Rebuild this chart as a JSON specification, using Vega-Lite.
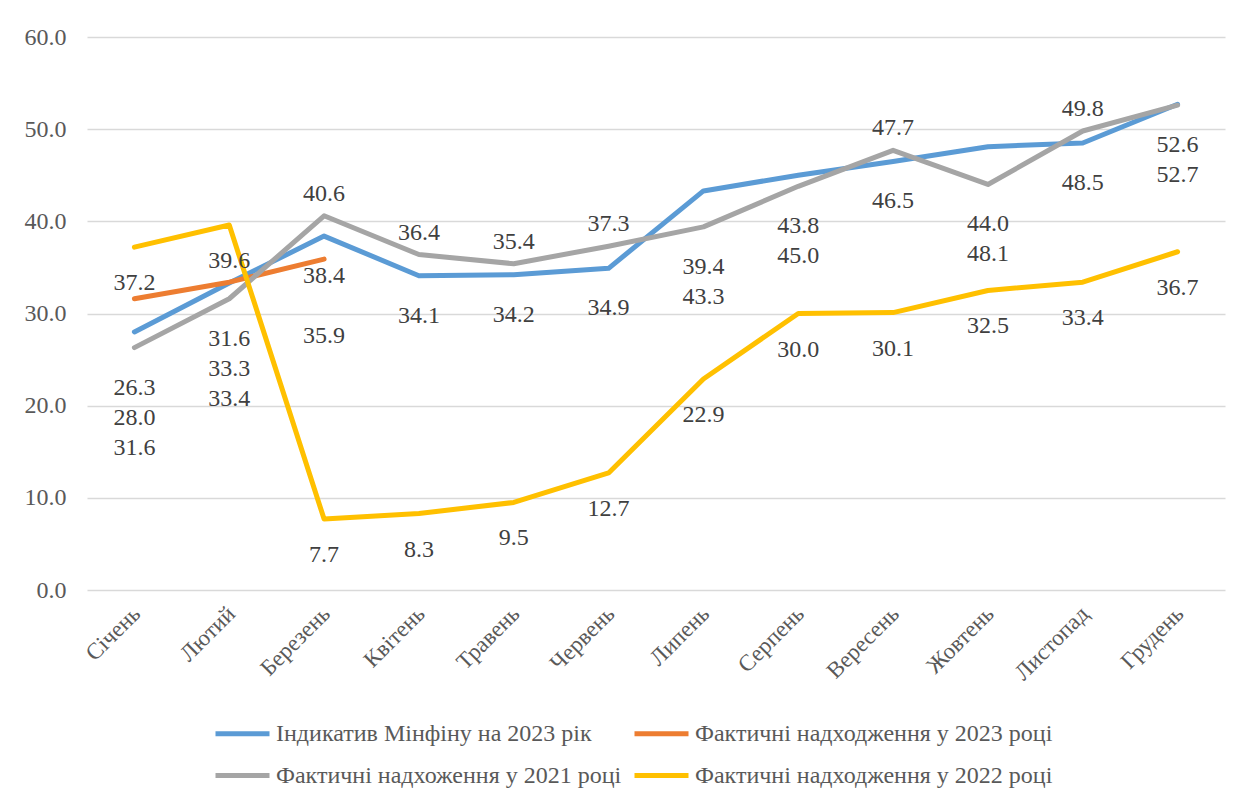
{
  "$schema": "https://vega.github.io/schema/vega-lite/v6.json",
  "width": 1138,
  "height": 553,
  "autosize": {"type": "none"},
  "padding": {"left": 87, "top": 37, "right": 30, "bottom": 215},
  "background": "white",
  "config": {"view": {"stroke": null}},
  "datasets": {
    "blue": [
      {"month": "Січень", "series": "Індикатив Мінфіну на 2023 рік", "value": 28.0},
      {"month": "Лютий", "series": "Індикатив Мінфіну на 2023 рік", "value": 33.3},
      {"month": "Березень", "series": "Індикатив Мінфіну на 2023 рік", "value": 38.4},
      {"month": "Квітень", "series": "Індикатив Мінфіну на 2023 рік", "value": 34.1},
      {"month": "Травень", "series": "Індикатив Мінфіну на 2023 рік", "value": 34.2},
      {"month": "Червень", "series": "Індикатив Мінфіну на 2023 рік", "value": 34.9},
      {"month": "Липень", "series": "Індикатив Мінфіну на 2023 рік", "value": 43.3},
      {"month": "Серпень", "series": "Індикатив Мінфіну на 2023 рік", "value": 45.0},
      {"month": "Вересень", "series": "Індикатив Мінфіну на 2023 рік", "value": 46.5},
      {"month": "Жовтень", "series": "Індикатив Мінфіну на 2023 рік", "value": 48.1},
      {"month": "Листопад", "series": "Індикатив Мінфіну на 2023 рік", "value": 48.5},
      {"month": "Грудень", "series": "Індикатив Мінфіну на 2023 рік", "value": 52.7}
    ],
    "orange": [
      {"month": "Січень", "series": "Фактичні надходження у 2023 році", "value": 31.6},
      {"month": "Лютий", "series": "Фактичні надходження у 2023 році", "value": 33.4},
      {"month": "Березень", "series": "Фактичні надходження у 2023 році", "value": 35.9}
    ],
    "gray": [
      {"month": "Січень", "series": "Фактичні надхоження у 2021 році", "value": 26.3},
      {"month": "Лютий", "series": "Фактичні надхоження у 2021 році", "value": 31.6},
      {"month": "Березень", "series": "Фактичні надхоження у 2021 році", "value": 40.6},
      {"month": "Квітень", "series": "Фактичні надхоження у 2021 році", "value": 36.4},
      {"month": "Травень", "series": "Фактичні надхоження у 2021 році", "value": 35.4},
      {"month": "Червень", "series": "Фактичні надхоження у 2021 році", "value": 37.3},
      {"month": "Липень", "series": "Фактичні надхоження у 2021 році", "value": 39.4},
      {"month": "Серпень", "series": "Фактичні надхоження у 2021 році", "value": 43.8},
      {"month": "Вересень", "series": "Фактичні надхоження у 2021 році", "value": 47.7},
      {"month": "Жовтень", "series": "Фактичні надхоження у 2021 році", "value": 44.0},
      {"month": "Листопад", "series": "Фактичні надхоження у 2021 році", "value": 49.8},
      {"month": "Грудень", "series": "Фактичні надхоження у 2021 році", "value": 52.6}
    ],
    "yellow": [
      {"month": "Січень", "series": "Фактичні надходження у 2022 році", "value": 37.2},
      {"month": "Лютий", "series": "Фактичні надходження у 2022 році", "value": 39.6},
      {"month": "Березень", "series": "Фактичні надходження у 2022 році", "value": 7.7},
      {"month": "Квітень", "series": "Фактичні надходження у 2022 році", "value": 8.3},
      {"month": "Травень", "series": "Фактичні надходження у 2022 році", "value": 9.5},
      {"month": "Червень", "series": "Фактичні надходження у 2022 році", "value": 12.7},
      {"month": "Липень", "series": "Фактичні надходження у 2022 році", "value": 22.9},
      {"month": "Серпень", "series": "Фактичні надходження у 2022 році", "value": 30.0},
      {"month": "Вересень", "series": "Фактичні надходження у 2022 році", "value": 30.1},
      {"month": "Жовтень", "series": "Фактичні надходження у 2022 році", "value": 32.5},
      {"month": "Листопад", "series": "Фактичні надходження у 2022 році", "value": 33.4},
      {"month": "Грудень", "series": "Фактичні надходження у 2022 році", "value": 36.7}
    ]
  },
  "encoding": {
    "x": {
      "field": "month",
      "type": "ordinal",
      "sort": ["Січень", "Лютий", "Березень", "Квітень", "Травень", "Червень", "Липень", "Серпень", "Вересень", "Жовтень", "Листопад", "Грудень"],
      "scale": {"type": "point", "padding": 0.5},
      "axis": {
        "title": null,
        "labelAngle": -45,
        "labelFont": "Liberation Serif",
        "labelFontSize": 23,
        "labelColor": "#595959",
        "labelPadding": 12,
        "labelOffset": -6,
        "domain": false,
        "ticks": false,
        "grid": false
      }
    },
    "y": {
      "field": "value",
      "type": "quantitative",
      "scale": {"domain": [0, 60], "nice": false},
      "axis": {
        "title": null,
        "values": [0, 10, 20, 30, 40, 50, 60],
        "format": ".1f",
        "labelFont": "Liberation Serif",
        "labelFontSize": 24,
        "labelColor": "#595959",
        "labelPadding": 21,
        "domain": false,
        "ticks": false,
        "gridColor": "#D9D9D9",
        "gridWidth": 1.5
      }
    },
    "color": {
      "field": "series",
      "type": "nominal",
      "scale": {
        "domain": ["Індикатив Мінфіну на 2023 рік", "Фактичні надходження у 2023 році", "Фактичні надхоження у 2021 році", "Фактичні надходження у 2022 році"],
        "range": ["#5B9BD5", "#ED7D31", "#A5A5A5", "#FFC000"]
      },
      "legend": {
        "title": null,
        "orient": "none",
        "legendX": 126,
        "legendY": 667,
        "direction": "horizontal",
        "columns": 2,
        "columnPadding": 2,
        "rowPadding": -15,
        "symbolType": "stroke",
        "symbolSize": 2916,
        "symbolStrokeWidth": 5,
        "labelFont": "Liberation Serif",
        "labelFontSize": 24,
        "labelColor": "#595959",
        "labelOffset": 4,
        "labelLimit": 600
      }
    }
  },
  "layer": [
    {"data": {"name": "blue"}, "mark": {"type": "line", "strokeWidth": 5, "strokeCap": "round", "strokeJoin": "round"}},
    {"data": {"name": "orange"}, "mark": {"type": "line", "strokeWidth": 5, "strokeCap": "round", "strokeJoin": "round"}},
    {"data": {"name": "gray"}, "mark": {"type": "line", "strokeWidth": 5, "strokeCap": "round", "strokeJoin": "round"}},
    {"data": {"name": "yellow"}, "mark": {"type": "line", "strokeWidth": 5, "strokeCap": "round", "strokeJoin": "round"}},
    {
      "data": {"name": "blue"},
      "transform": [{"lookup": "month", "from": {"data": {"name": "gray"}, "key": "month", "fields": ["value"]}, "as": ["grayValue"]}],
      "mark": {"type": "text", "fontSize": 24, "font": "Liberation Serif", "color": "#404040", "dy": {"expr": "datum.value <= datum.grayValue ? 40 : 70 + (datum.value - datum.grayValue) * 9.2167"}},
      "encoding": {"text": {"field": "value", "type": "quantitative", "format": ".1f"}, "color": {"value": "#404040"}}
    },
    {
      "data": {"name": "gray"},
      "transform": [{"lookup": "month", "from": {"data": {"name": "blue"}, "key": "month", "fields": ["value"]}, "as": ["blueValue"]}],
      "mark": {"type": "text", "fontSize": 24, "font": "Liberation Serif", "color": "#404040", "dy": {"expr": "datum.value >= datum.blueValue ? -22 : 40"}},
      "encoding": {"text": {"field": "value", "type": "quantitative", "format": ".1f"}, "color": {"value": "#404040"}}
    },
    {
      "data": {"name": "orange"},
      "transform": [
        {"lookup": "month", "from": {"data": {"name": "blue"}, "key": "month", "fields": ["value"]}, "as": ["blueValue"]},
        {"lookup": "month", "from": {"data": {"name": "gray"}, "key": "month", "fields": ["value"]}, "as": ["grayValue"]}
      ],
      "mark": {"type": "text", "fontSize": 24, "font": "Liberation Serif", "color": "#404040", "dy": {"expr": "max(40, 100 + (datum.value - min(datum.blueValue, datum.grayValue)) * 9.2167)"}},
      "encoding": {"text": {"field": "value", "type": "quantitative", "format": ".1f"}, "color": {"value": "#404040"}}
    },
    {
      "data": {"name": "yellow"},
      "mark": {"type": "text", "fontSize": 24, "font": "Liberation Serif", "color": "#404040", "dy": 36},
      "encoding": {"text": {"field": "value", "type": "quantitative", "format": ".1f"}, "color": {"value": "#404040"}}
    }
  ]
}
